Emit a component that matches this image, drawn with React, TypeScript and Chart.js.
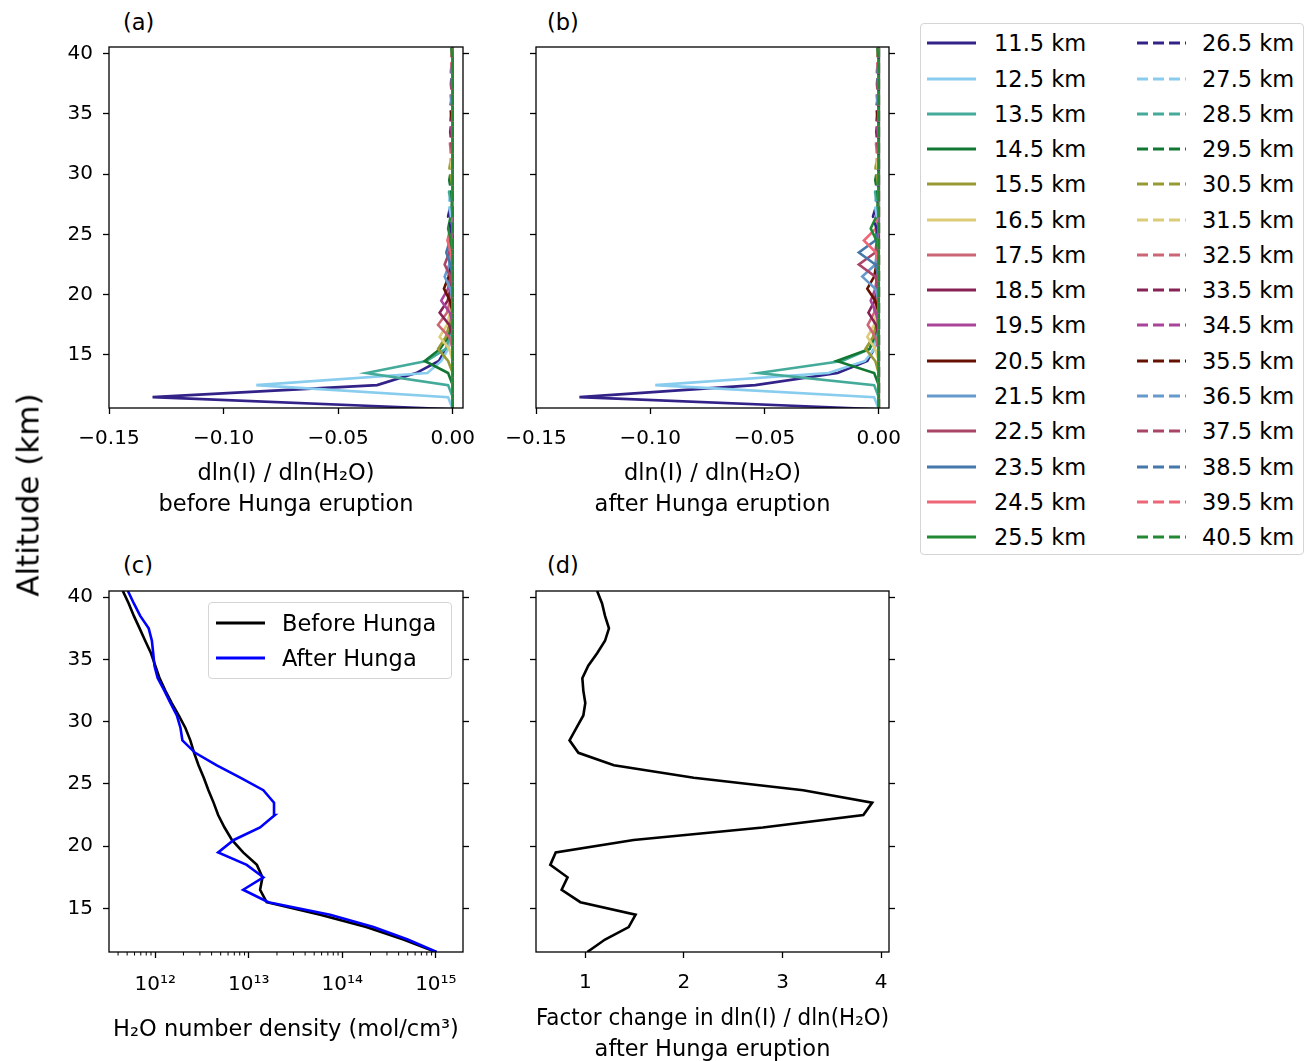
import React, { useEffect, useRef } from 'react';
import { Chart, registerables } from 'chart.js';

Chart.register(...registerables);
Chart.defaults.font.family = "'DejaVu Sans', sans-serif";
Chart.defaults.color = '#000';

// ---------- data ----------
// altitude grid for the sensitivity panels (a) and (b)
const sensAltitudes = [10.5, 11.5, 12.5, 13.5, 14.5, 15.5, 16.5, 17.5, 18.5, 19.5, 20.5, 21.5, 22.5, 23.5, 24.5, 25.5, 26.5, 27.5, 28.5, 29.5, 30.5, 31.5, 32.5, 33.5, 34.5, 35.5, 36.5, 37.5, 38.5, 39.5, 40.5];
// altitude of each perturbed layer (one line per layer)
const seriesAltitudes = [11.5, 12.5, 13.5, 14.5, 15.5, 16.5, 17.5, 18.5, 19.5, 20.5, 21.5, 22.5, 23.5, 24.5, 25.5, 26.5, 27.5, 28.5, 29.5, 30.5, 31.5, 32.5, 33.5, 34.5, 35.5, 36.5, 37.5, 38.5, 39.5, 40.5];
const seriesLabels = ['11.5 km', '12.5 km', '13.5 km', '14.5 km', '15.5 km', '16.5 km', '17.5 km', '18.5 km', '19.5 km', '20.5 km', '21.5 km', '22.5 km', '23.5 km', '24.5 km', '25.5 km', '26.5 km', '27.5 km', '28.5 km', '29.5 km', '30.5 km', '31.5 km', '32.5 km', '33.5 km', '34.5 km', '35.5 km', '36.5 km', '37.5 km', '38.5 km', '39.5 km', '40.5 km'];
const seriesColors = ['#332288', '#88CCEE', '#44AA99', '#117733', '#999933', '#DDCC77', '#CC6677', '#882255', '#AA4499', '#661100', '#6699CC', '#AA4466', '#4477AA', '#EE6677', '#228833'];

// values read at (layer altitude + offset) km; zero elsewhere
const windowOffsets = [-1, 0, 1, 2, 3, 4];
const sensBefore = [
  [0, -0.131, -0.033, -0.016, -0.006, -0.003],
  [-0.002, -0.0857, -0.011, -0.005, -0.002, -0.001],
  [-0.002, -0.0377, -0.0115, -0.003, -0.0015, -0.001],
  [-0.002, -0.0122, -0.0055, -0.002, -0.001, -0.0005],
  [-0.002, -0.0064, -0.003, -0.0015, -0.0008, 0],
  [-0.0015, -0.0057, -0.0025, -0.0012, -0.0006, 0],
  [-0.0015, -0.0064, -0.0025, -0.0012, -0.0006, 0],
  [-0.0015, -0.0057, -0.0022, -0.001, -0.0005, 0],
  [-0.0012, -0.005, -0.002, -0.001, -0.0005, 0],
  [-0.0012, -0.0038, -0.0018, -0.0008, -0.0004, 0],
  [-0.001, -0.0035, -0.0015, -0.0008, -0.0004, 0],
  [-0.001, -0.0035, -0.0015, -0.0007, -0.0003, 0],
  [-0.001, -0.0028, -0.0012, -0.0006, -0.0003, 0],
  [-0.0008, -0.0023, -0.001, -0.0005, -0.0002, 0],
  [-0.0008, -0.002, -0.0009, -0.0004, -0.0002, 0],
  [-0.0008, -0.002, -0.0008, -0.0004, -0.0002, 0],
  [-0.0007, -0.0018, -0.0008, -0.0003, -0.0001, 0],
  [-0.0006, -0.0016, -0.0007, -0.0003, -0.0001, 0],
  [-0.0006, -0.0015, -0.0006, -0.0003, -0.0001, 0],
  [-0.0005, -0.0014, -0.0006, -0.0002, -0.0001, 0],
  [-0.0005, -0.0013, -0.0005, -0.0002, -0.0001, 0],
  [-0.0005, -0.0012, -0.0005, -0.0002, -0.0001, 0],
  [-0.0004, -0.0011, -0.0005, -0.0002, -0.0001, 0],
  [-0.0004, -0.001, -0.0004, -0.0002, -0.0001, 0],
  [-0.0004, -0.001, -0.0004, -0.0002, -0.0001, 0],
  [-0.0003, -0.0009, -0.0004, -0.0002, 0, 0],
  [-0.0003, -0.0008, -0.0003, -0.0001, 0, 0],
  [-0.0003, -0.0008, -0.0003, -0.0001, 0, 0],
  [-0.0003, -0.0007, -0.0003, 0, 0, 0],
  [-0.0002, -0.0006, 0, 0, 0, 0],
];
const sensAfter = [
  [0, -0.131, -0.054, -0.018, -0.005, -0.002],
  [-0.002, -0.0978, -0.022, -0.006, -0.002, -0.001],
  [-0.002, -0.0526, -0.016, -0.004, -0.0015, -0.0008],
  [-0.002, -0.0184, -0.004, -0.002, -0.001, -0.0005],
  [-0.0015, -0.0058, -0.0025, -0.0012, -0.0006, 0],
  [-0.0015, -0.005, -0.002, -0.001, -0.0005, 0],
  [-0.0015, -0.0048, -0.002, -0.001, -0.0005, 0],
  [-0.0012, -0.0045, -0.0018, -0.0008, -0.0004, 0],
  [-0.0012, -0.0035, -0.0015, -0.0007, -0.0003, 0],
  [-0.0015, -0.005, -0.002, -0.001, -0.0005, 0],
  [-0.0015, -0.0072, -0.0015, -0.0008, -0.0004, 0],
  [-0.0015, -0.0087, -0.0015, -0.0008, -0.0004, 0],
  [-0.0015, -0.0087, -0.0015, -0.0008, -0.0004, 0],
  [-0.0012, -0.0065, -0.0012, -0.0006, -0.0003, 0],
  [-0.001, -0.0035, -0.001, -0.0005, -0.0002, 0],
  [-0.001, -0.0025, -0.0009, -0.0004, -0.0002, 0],
  [-0.0008, -0.0018, -0.0008, -0.0003, -0.0001, 0],
  [-0.0007, -0.0016, -0.0007, -0.0003, -0.0001, 0],
  [-0.0006, -0.0015, -0.0006, -0.0003, -0.0001, 0],
  [-0.0005, -0.0014, -0.0006, -0.0002, -0.0001, 0],
  [-0.0005, -0.0013, -0.0005, -0.0002, -0.0001, 0],
  [-0.0005, -0.0012, -0.0005, -0.0002, -0.0001, 0],
  [-0.0004, -0.0011, -0.0005, -0.0002, -0.0001, 0],
  [-0.0004, -0.001, -0.0004, -0.0002, -0.0001, 0],
  [-0.0004, -0.001, -0.0004, -0.0002, -0.0001, 0],
  [-0.0003, -0.0009, -0.0004, -0.0002, 0, 0],
  [-0.0003, -0.0008, -0.0003, -0.0001, 0, 0],
  [-0.0003, -0.0008, -0.0003, -0.0001, 0, 0],
  [-0.0003, -0.0007, -0.0003, 0, 0, 0],
  [-0.0002, -0.0006, 0, 0, 0, 0],
];

// profiles for panels (c) and (d)
const profileAltitudes = [11.5, 12.5, 13.5, 14.5, 15.5, 16.5, 17.5, 18.5, 19.5, 20.5, 21.5, 22.5, 23.5, 24.5, 25.5, 26.5, 27.5, 28.5, 29.5, 30.5, 31.5, 32.5, 33.5, 34.5, 35.5, 36.5, 37.5, 38.5, 39.5, 40.5];
const densityBefore = [1.0e15, 4.5e14, 1.8e14, 5.8e13, 1.55e13, 1.32e13, 1.4e13, 1.22e13, 8.7e12, 6.6e12, 5.5e12, 4.7e12, 4.2e12, 3.7e12, 3.3e12, 2.9e12, 2.6e12, 2.37e12, 2.1e12, 1.78e12, 1.5e12, 1.28e12, 1.11e12, 1.0e12, 9.0e11, 7.8e11, 6.8e11, 5.9e11, 5.2e11, 4.5e11];
const densityAfter = [1.02e15, 5.0e14, 2.15e14, 7.4e13, 1.62e13, 8.7e12, 1.43e13, 9.5e12, 4.7e12, 6.9e12, 1.32e13, 1.9e13, 1.86e13, 1.43e13, 8.1e12, 4.55e12, 2.67e12, 1.95e12, 1.86e12, 1.7e12, 1.45e12, 1.25e12, 1.06e12, 9.8e11, 9.5e11, 9.2e11, 8.5e11, 6.9e11, 5.9e11, 5.1e11];
const factorChange = [1.02, 1.2, 1.44, 1.51, 0.95, 0.76, 0.82, 0.645, 0.7, 1.49, 2.8, 3.82, 3.91, 3.21, 2.1, 1.29, 0.93, 0.84, 0.91, 0.98, 1.0, 0.98, 0.97, 1.03, 1.12, 1.2, 1.24, 1.2, 1.17, 1.12];

// ticks
const sensTicks = [-0.15, -0.1, -0.05, 0];
const altTicks = [15, 20, 25, 30, 35, 40];
const densityTicks = [1e12, 1e13, 1e14, 1e15];
const densityTickLabels = ['10¹²', '10¹³', '10¹⁴', '10¹⁵'];
const densityMinorTicks = [4e11, 5e11, 6e11, 7e11, 8e11, 9e11, 2e12, 3e12, 4e12, 5e12, 6e12, 7e12, 8e12, 9e12, 2e13, 3e13, 4e13, 5e13, 6e13, 7e13, 8e13, 9e13, 2e14, 3e14, 4e14, 5e14, 6e14, 7e14, 8e14, 9e14];
const factorTicks = [1, 2, 3, 4];

// ---------- chart helpers ----------
const framePlugin = {
  id: 'frame',
  afterDraw(chart: any, _args: any, opts: any) {
    const { ctx, chartArea } = chart;
    const { left, top, right, bottom } = chartArea;
    ctx.save();
    ctx.strokeStyle = '#000';
    ctx.lineWidth = 1.3;
    ctx.strokeRect(left, top, right - left, bottom - top);
    const minors: number[] = (opts && opts.minorTicks) || [];
    if (minors.length) {
      const sx = chart.scales.x;
      ctx.lineWidth = 1;
      ctx.beginPath();
      minors.forEach((v) => {
        const px = sx.getPixelForValue(v);
        if (px >= left - 0.5 && px <= right + 0.5) {
          ctx.moveTo(px, bottom);
          ctx.lineTo(px, bottom + 3.5);
        }
      });
      ctx.stroke();
    }
    ctx.restore();
  },
};

const tickGrid = () => ({
  display: true,
  drawOnChartArea: false,
  drawTicks: true,
  tickLength: 6,
  tickWidth: 1.3,
  tickColor: '#000',
});

const fmtSens = (v: number) => v.toFixed(2).replace('-', '\u2212');

function buildOptions(p: any) {
  const yCommon = {
    type: 'linear',
    min: p.yMin,
    max: p.yMax,
    afterBuildTicks: (s: any) => {
      s.ticks = altTicks.map((v) => ({ value: v }));
    },
    grid: tickGrid(),
    border: { display: false },
  };
  return {
    responsive: false,
    animation: false,
    events: [],
    layout: { padding: { top: 10, left: 0, right: 0, bottom: 0 } },
    plugins: {
      legend: { display: false },
      tooltip: { enabled: false },
      frame: { minorTicks: p.minorTicks || [] },
    },
    scales: {
      x: {
        type: p.xType,
        position: 'bottom',
        min: p.xMin,
        max: p.xMax,
        afterBuildTicks: (s: any) => {
          s.ticks = p.xTicks.map((v: number) => ({ value: v }));
        },
        afterFit: (s: any) => {
          s.height = p.xHeight;
          s.paddingLeft = 0;
          s.paddingRight = 0;
        },
        ticks: {
          autoSkip: false,
          maxRotation: 0,
          minRotation: 0,
          padding: p.xPad,
          font: { size: 20 },
          color: '#000',
          callback: p.xLabel,
        },
        grid: tickGrid(),
        border: { display: false },
        title: {
          display: true,
          text: p.xTitle,
          color: '#000',
          font: { size: 22.5, lineHeight: 1.38 },
          padding: { top: 0, bottom: p.titlePad },
        },
      },
      y: {
        ...yCommon,
        position: 'left',
        afterFit: (s: any) => {
          s.width = 70;
          s.paddingTop = 0;
          s.paddingBottom = 0;
        },
        ticks: {
          display: p.yLabels,
          padding: 10,
          font: { size: 20 },
          color: '#000',
          callback: (v: number) => String(v),
        },
      },
      yr: {
        ...yCommon,
        position: 'right',
        afterFit: (s: any) => {
          s.width = 20;
          s.paddingTop = 0;
          s.paddingBottom = 0;
        },
        ticks: { display: false },
      },
    },
  };
}

function sensDatasets(table: number[][]) {
  return seriesAltitudes.map((alt, k) => {
    const row = table[k];
    const data = sensAltitudes.map((a) => {
      const idx = windowOffsets.indexOf(Math.round(a - alt));
      return { x: idx >= 0 ? row[idx] : 0, y: a };
    });
    return {
      label: seriesLabels[k],
      data,
      borderColor: seriesColors[k % 15],
      borderWidth: 2.6,
      borderDash: k >= 15 ? [11, 5] : [],
      pointRadius: 0,
      fill: false,
      tension: 0,
      order: 30 - k,
    };
  });
}

function profileDataset(label: string, values: number[], color: string, order: number) {
  return {
    label,
    data: profileAltitudes.map((a, i) => ({ x: values[i], y: a })),
    borderColor: color,
    borderWidth: 2.6,
    pointRadius: 0,
    fill: false,
    tension: 0,
    order,
  };
}

function ChartPanel({ left, top, width, height, config }: any) {
  const ref = useRef<HTMLCanvasElement>(null);
  useEffect(() => {
    const chart = new Chart(ref.current as HTMLCanvasElement, config);
    return () => chart.destroy();
  }, []);
  return (
    <canvas
      ref={ref}
      width={width}
      height={height}
      style={{ position: 'absolute', left, top, width, height }}
    />
  );
}

const sensX = {
  xType: 'linear',
  xMin: -0.15,
  xMax: 0.0045,
  xTicks: sensTicks,
  xLabel: (v: number) => fmtSens(v),
  xPad: 13,
  xHeight: 113,
};

const configA = {
  type: 'line',
  data: { datasets: sensDatasets(sensBefore) },
  options: buildOptions({
    ...sensX,
    yMin: 10.6,
    yMax: 40.55,
    yLabels: true,
    xTitle: ['dln(I) / dln(H\u2082O)', 'before Hunga eruption'],
    titlePad: 0,
  }),
  plugins: [framePlugin],
};
const configB = {
  type: 'line',
  data: { datasets: sensDatasets(sensAfter) },
  options: buildOptions({
    ...sensX,
    yMin: 10.6,
    yMax: 40.55,
    yLabels: false,
    xTitle: ['dln(I) / dln(H\u2082O)', 'after Hunga eruption'],
    titlePad: 0,
  }),
  plugins: [framePlugin],
};
const configC = {
  type: 'line',
  data: {
    datasets: [
      profileDataset('Before Hunga', densityBefore, '#000000', 2),
      profileDataset('After Hunga', densityAfter, '#0000FF', 1),
    ],
  },
  options: buildOptions({
    xType: 'logarithmic',
    xMin: 3.2e11,
    xMax: 1.95e15,
    xTicks: densityTicks,
    xLabel: (_v: number, i: number) => densityTickLabels[i],
    xPad: 15,
    xHeight: 114,
    minorTicks: densityMinorTicks,
    yMin: 11.5,
    yMax: 40.5,
    yLabels: true,
    xTitle: 'H\u2082O number density (mol/cm\u00B3)',
    titlePad: 20,
  }),
  plugins: [framePlugin],
};
const configD = {
  type: 'line',
  data: { datasets: [profileDataset('Factor change', factorChange, '#000000', 1)] },
  options: buildOptions({
    xType: 'linear',
    xMin: 0.5,
    xMax: 4.08,
    xTicks: factorTicks,
    xLabel: (v: number) => String(v),
    xPad: 13,
    xHeight: 114,
    yMin: 11.5,
    yMax: 40.5,
    yLabels: false,
    xTitle: ['Factor change in dln(I) / dln(H\u2082O)', 'after Hunga eruption'],
    titlePad: 0,
  }),
  plugins: [framePlugin],
};

const textStyle: React.CSSProperties = {
  position: 'absolute',
  fontSize: 22.5,
  lineHeight: 1,
  color: '#000',
  whiteSpace: 'nowrap',
  transform: 'translateY(-50%)',
};

function LineSample({ color, dashed, width }: { color: string; dashed: boolean; width: number }) {
  return (
    <svg width={width} height={6} style={{ position: 'absolute', left: 0, top: -3 }}>
      <line
        x1={0}
        y1={3}
        x2={width}
        y2={3}
        stroke={color}
        strokeWidth={3}
        strokeDasharray={dashed ? '11 5' : undefined}
      />
    </svg>
  );
}

function MainLegend() {
  const rowPitch = 35.27;
  return (
    <div
      style={{
        position: 'absolute',
        left: 920,
        top: 23,
        width: 384,
        height: 532,
        border: '1.3px solid #d5d5d5',
        borderRadius: 4,
        background: '#fff',
        boxSizing: 'border-box',
      }}
    >
      {seriesLabels.map((lab, k) => {
        const col = Math.floor(k / 15);
        const row = k % 15;
        const cy = 42.3 + rowPitch * row - 23;
        const sampleLeft = col === 0 ? 6 : 216;
        const textLeft = col === 0 ? 73 : 281;
        return (
          <React.Fragment key={lab}>
            <div style={{ position: 'absolute', left: sampleLeft, top: cy, width: 50 }}>
              <LineSample color={seriesColors[k % 15]} dashed={k >= 15} width={49} />
            </div>
            <div style={{ ...textStyle, left: textLeft, top: cy }}>{lab}</div>
          </React.Fragment>
        );
      })}
    </div>
  );
}

function DensityLegend() {
  const rows = [
    { label: 'Before Hunga', color: '#000000', cy: 621.7 },
    { label: 'After Hunga', color: '#0000FF', cy: 656.7 },
  ];
  return (
    <div
      style={{
        position: 'absolute',
        left: 208,
        top: 602,
        width: 244,
        height: 77,
        border: '1.3px solid #d5d5d5',
        borderRadius: 4,
        background: 'rgba(255,255,255,0.8)',
        boxSizing: 'border-box',
      }}
    >
      {rows.map((r) => (
        <React.Fragment key={r.label}>
          <div style={{ position: 'absolute', left: 7, top: r.cy - 602, width: 49 }}>
            <LineSample color={r.color} dashed={false} width={49} />
          </div>
          <div style={{ ...textStyle, left: 73, top: r.cy - 602 }}>{r.label}</div>
        </React.Fragment>
      ))}
    </div>
  );
}

export default function App() {
  return (
    <div
      style={{
        position: 'absolute',
        left: 0,
        top: 0,
        width: 1308,
        height: 1061,
        overflow: 'hidden',
        background: '#fff',
        fontFamily: "'DejaVu Sans', sans-serif",
      }}
    >
      <ChartPanel left={39} top={37} width={444} height={484} config={configA} />
      <ChartPanel left={466} top={37} width={443} height={484} config={configB} />
      <ChartPanel left={39} top={581} width={444} height={485} config={configC} />
      <ChartPanel left={466} top={581} width={443} height={485} config={configD} />

      <div style={{ ...textStyle, left: 123, top: 22 }}>(a)</div>
      <div style={{ ...textStyle, left: 547, top: 22 }}>(b)</div>
      <div style={{ ...textStyle, left: 123, top: 565 }}>(c)</div>
      <div style={{ ...textStyle, left: 547, top: 565 }}>(d)</div>

      <div
        style={{
          position: 'absolute',
          left: 28,
          top: 495,
          fontSize: 31,
          lineHeight: 1,
          whiteSpace: 'nowrap',
          color: '#000',
          transform: 'translate(-50%, -50%) rotate(-90deg)',
        }}
      >
        Altitude (km)
      </div>

      <MainLegend />
      <DensityLegend />
    </div>
  );
}
